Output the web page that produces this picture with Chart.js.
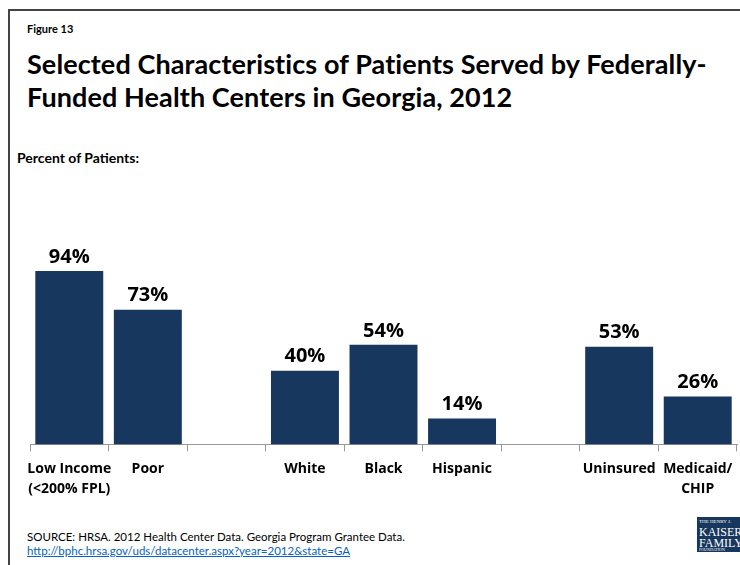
<!DOCTYPE html>
<html>
<head>
<meta charset="utf-8">
<script src="https://cdn.jsdelivr.net/npm/chart.js@4/dist/chart.umd.min.js"></script>
<style>
  body { margin: 0; background: #fff; font-family: Lato, "Open Sans", sans-serif; }
  #page { position: relative; width: 740px; height: 565px; overflow: hidden; }
  #frame { position: absolute; left: 8px; top: 9px; width: 760px; height: 600px; border: 2px solid #444; }
  .txt { position: absolute; white-space: nowrap; color: #000; }
  #fig { left: 27px; top: 22px; font-size: 11px; font-weight: bold; }
  #title { left: 27px; top: 47px; font-size: 27px; font-weight: bold; line-height: 33px; letter-spacing: 0.1px; }
  #sub { left: 17px; top: 149px; font-size: 14px; font-weight: bold; }
  #src { left: 27px; top: 530px; font-size: 11.5px; line-height: 14px; }
  #src a { color: #0563c1; }
  #logo { position: absolute; left: 697px; top: 517px; width: 60px; height: 35px; background: #17375e; color: #fff;
          font-family: "Liberation Serif", serif; overflow: hidden; }
  #logo div { position: absolute; left: 2px; white-space: nowrap; }
  canvas { position: absolute; left: 0; top: 0; }
</style>
</head>
<body>
<div id="page">
  <div id="frame"></div>
  <div class="txt" id="fig">Figure 13</div>
  <div class="txt" id="title">Selected Characteristics of Patients Served by Federally-<br>Funded Health Centers in Georgia, 2012</div>
  <div class="txt" id="sub">Percent of Patients:</div>
  <div class="txt" id="src">SOURCE: HRSA. 2012 Health Center Data. Georgia Program Grantee Data.<br><a href="#">http://bphc.hrsa.gov/uds/datacenter.aspx?year=2012&amp;state=GA</a></div>
  <div id="logo">
    <div style="top:2px;font-size:5px;">THE HENRY J.</div>
    <div style="top:8px;font-size:12px;">KAISER</div>
    <div style="top:19px;font-size:12px;">FAMILY</div>
    <div style="top:30px;font-size:4px;">FOUNDATION</div>
  </div>
  <canvas id="chart" width="740" height="565"></canvas>
</div>
<script>
// Categories (blank slots separate the groups)
const categories = [
  ['Low Income', '(<200% FPL)'], 'Poor', '',
  'White', 'Black', 'Hispanic', '',
  'Uninsured', ['Medicaid/', 'CHIP']
];
const percentValues = [94, 73, null, 40, 54, 14, null, 53, 26];

const barColor = '#17375e';
const labelFont = '"Open Sans", sans-serif';

// draw the value labels above the bars
const valueLabels = {
  id: 'valueLabels',
  afterDatasetsDraw(chart) {
    const ctx = chart.ctx;
    const meta = chart.getDatasetMeta(0);
    ctx.save();
    ctx.font = 'bold 20px ' + labelFont;
    ctx.fillStyle = '#000';
    ctx.textAlign = 'center';
    ctx.textBaseline = 'bottom';
    meta.data.forEach((bar, i) => {
      const v = percentValues[i];
      if (v === null) return;
      ctx.fillText(v + '%', bar.x, bar.y - 4);
    });
    ctx.restore();
  }
};

function drawChart() {
  new Chart(document.getElementById('chart'), {
    type: 'bar',
    data: {
      labels: categories,
      datasets: [{
        data: percentValues,
        backgroundColor: barColor,
        barPercentage: 0.865,
        categoryPercentage: 1.0
      }]
    },
    options: {
      responsive: false,
      animation: false,
      layout: { padding: { left: 30, right: 3, top: 260, bottom: 59 } },
      plugins: {
        legend: { display: false },
        tooltip: { enabled: false }
      },
      scales: {
        x: {
          grid: { display: true, drawOnChartArea: false, color: '#999', tickLength: 7 },
          border: { color: '#999', width: 1 },
          ticks: {
            color: '#000',
            font: { family: labelFont, size: 14, weight: 'bold', lineHeight: 1.45 },
            maxRotation: 0,
            autoSkip: false,
            padding: 7
          }
        },
        y: {
          display: false,
          min: 0,
          max: 100
        }
      }
    },
    plugins: [valueLabels]
  });
}

// make sure the bold face is ready before the canvas draws text
Promise.all([
  document.fonts.load('bold 14px "Open Sans"'),
  document.fonts.load('bold 20px "Open Sans"')
]).then(drawChart, drawChart);
</script>
</body>
</html>
